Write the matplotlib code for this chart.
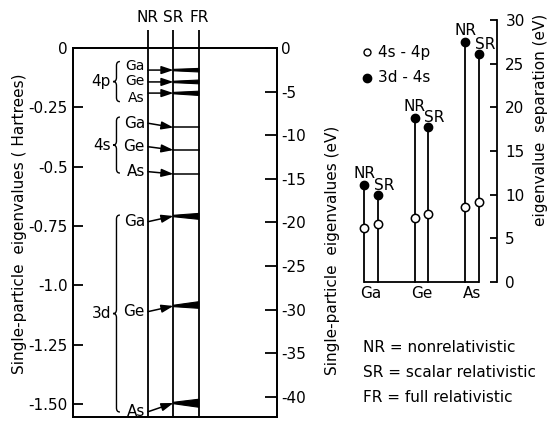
import numpy as np
import matplotlib
matplotlib.use("Agg")
import matplotlib.pyplot as plt
from matplotlib.path import Path
from matplotlib.patches import PathPatch, Polygon

plt.rcParams['font.family'] = ['DejaVu Sans']
FS = 11

# ---------------- data ----------------
methods = ["NR", "SR", "FR"]
elements = ["Ga", "Ge", "As"]
shells = ["4p", "4s", "3d"]
HARTREE_EV = 27.211

# single-particle eigenvalues (Hartree)
e4p_NR = [-0.093, -0.143, -0.190]
e4p_SR = [-0.093, -0.143, -0.190]
e4p_FR_hi = [-0.086, -0.135, -0.182]
e4p_FR_lo = [-0.101, -0.151, -0.200]

e4s_NR = [-0.317, -0.416, -0.521]
e4s_SR = [-0.335, -0.430, -0.531]
e4s_FR_hi = [-0.335, -0.430, -0.531]
e4s_FR_lo = [-0.335, -0.430, -0.531]

e3d_NR = [-0.732, -1.111, -1.533]
e3d_SR = [-0.708, -1.087, -1.496]
e3d_FR_hi = [-0.697, -1.069, -1.480]
e3d_FR_lo = [-0.722, -1.097, -1.514]

hartree_ticks = [0, -0.25, -0.5, -0.75, -1.0, -1.25, -1.5]
hartree_labels = ["0", "-0.25", "-0.5", "-0.75", "-1.0", "-1.25", "-1.50"]
ev_ticks = [0, -5, -10, -15, -20, -25, -30, -35, -40]
ev_labels = ["0", "-5", "-10", "-15", "-20", "-25", "-30", "-35", "-40"]

# eigenvalue separations (eV)
sep_4s4p_NR = [6.15, 7.37, 8.63]
sep_4s4p_SR = [6.6, 7.76, 9.13]
sep_3d4s_NR = [11.1, 18.8, 27.5]
sep_3d4s_SR = [9.97, 17.7, 26.1]
sep_ticks = [0, 5, 10, 15, 20, 25, 30]

legend_notes = ["NR = nonrelativistic", "SR = scalar relativistic", "FR = full relativistic"]

# ---------------- figure ----------------
W, H = 548, 429
fig = plt.figure(figsize=(W / 100, H / 100), dpi=100)
fig.patch.set_facecolor("white")

def fx(px):
    return px / W

def fy(py):
    return 1 - py / H

LW = 1.3

# ---------- left panel ----------
ax = fig.add_axes([fx(73), fy(417), (277 - 73) / W, (417 - 48) / H])
ymin = -1.555
ax.set_ylim(ymin, 0)
ax.set_xlim(-2.94, 5.06)
ax.set_xticks([])
ax.set_yticks(hartree_ticks)
ax.set_yticklabels(hartree_labels, fontsize=FS)
ax.tick_params(axis='y', direction='in', length=7, width=LW, pad=4)
for s in ax.spines.values():
    s.set_linewidth(LW)

axe = ax.twinx()
axe.set_ylim(ymin * HARTREE_EV, 0)
axe.set_yticks(ev_ticks)
axe.set_yticklabels(ev_labels, fontsize=FS)
axe.tick_params(axis='y', direction='in', length=8.5, width=LW, pad=3)
for s in axe.spines.values():
    s.set_linewidth(LW)

xpos = {m: i for i, m in enumerate(methods)}
top_line = 0.076
for m in methods:
    ax.plot([xpos[m], xpos[m]], [ymin, top_line], color='k', lw=LW,
            clip_on=False, solid_capstyle='butt')
    ax.text(xpos[m], 0.128, m, ha='center', va='center', fontsize=FS,
            clip_on=False)

def draw_level(nr, sr, fr_hi, fr_lo):
    ax.annotate('', xy=(xpos["SR"], sr), xytext=(xpos["NR"], nr),
                arrowprops=dict(arrowstyle='-|>,head_length=0.6,head_width=0.2',
                                color='k', lw=1.1, shrinkA=0, shrinkB=0,
                                mutation_scale=12))
    if abs(fr_hi - fr_lo) < 1e-6:
        ax.plot([xpos["SR"], xpos["FR"]], [sr, sr], color='k', lw=1.1)
    else:
        d = 0.003
        poly = Polygon([(xpos["SR"], sr + d), (xpos["FR"], fr_hi),
                        (xpos["FR"], fr_lo), (xpos["SR"], sr - d)],
                       closed=True, facecolor='k', edgecolor='k', lw=0.8)
        ax.add_patch(poly)

def brace(y_top, y_bot, r=0.017, x_end=-1.10, x_mid=-1.235, x_tip=-1.37):
    ym = (y_top + y_bot) / 2
    verts = [(x_end, y_top), (x_mid, y_top), (x_mid, y_top - r),
             (x_mid, ym + r),
             (x_mid, ym), (x_tip, ym),
             (x_mid, ym), (x_mid, ym - r),
             (x_mid, y_bot + r),
             (x_mid, y_bot), (x_end, y_bot)]
    codes = [Path.MOVETO, Path.CURVE3, Path.CURVE3, Path.LINETO,
             Path.CURVE3, Path.CURVE3, Path.CURVE3, Path.CURVE3,
             Path.LINETO, Path.CURVE3, Path.CURVE3]
    ax.add_patch(PathPatch(Path(verts, codes), facecolor='none',
                           edgecolor='k', lw=1.0, clip_on=False))
    return ym

groups = [
    ("4p", e4p_NR, e4p_SR, e4p_FR_hi, e4p_FR_lo, 0.036, 0.036, 10, [0.019, 0.003, -0.019]),
    ("4s", e4s_NR, e4s_SR, e4s_FR_hi, e4s_FR_lo, 0.026, 0.006, FS, [0, 0, 0]),
    ("3d", e3d_NR, e3d_SR, e3d_FR_hi, e3d_FR_lo, 0.028, 0.001, FS, [0, 0, 0]),
]
for shell, nr, sr, fh, fl, ptop, pbot, fs, shift in groups:
    for i, el in enumerate(elements):
        draw_level(nr[i], sr[i], fh[i], fl[i])
        ax.text(xpos["NR"] - 0.12, nr[i] + shift[i], el, ha='right', va='center',
                fontsize=fs)
    ym = brace(max(nr) + ptop, min(nr) - pbot)
    ax.text(-1.45, ym, shell, ha='right', va='center', fontsize=FS)

fig.text(fx(20), fy(224), "Single-particle  eigenvalues ( Hartrees)",
         rotation=90, ha='center', va='center', fontsize=FS)
fig.text(fx(332), fy(250), "Single-particle  eigenvalues (eV)",
         rotation=90, ha='center', va='center', fontsize=FS)

# ---------- right panel ----------
ax2 = fig.add_axes([fx(355), fy(282), (497 - 355) / W, (282 - 20) / H])
ax2.set_ylim(0, 30)
ax2.set_xlim(-0.317, 2.495)
for side in ["left", "top", "bottom"]:
    ax2.spines[side].set_visible(False)
ax2.spines["right"].set_linewidth(LW)
ax2.yaxis.tick_right()
ax2.set_yticks(sep_ticks)
ax2.set_yticklabels([str(t) for t in sep_ticks], fontsize=FS)
ax2.tick_params(axis='y', direction='in', length=5, width=LW, pad=6)
ax2.set_xticks([])
ax2.patch.set_alpha(0)

off = 0.13
xc = np.arange(len(elements))
x_nr = xc - off
x_sr = xc + off
for xs, top, low, lab, dx, dy in [
        (x_nr, sep_3d4s_NR, sep_4s4p_NR, "NR", 0, 8.5),
        (x_sr, sep_3d4s_SR, sep_4s4p_SR, "SR", 4.5, 7)]:
    for x, t, l in zip(xs, top, low):
        ax2.plot([x, x], [0, t], color='k', lw=LW, clip_on=False)
        ax2.plot(x, t, 'o', ms=6, mfc='k', mec='k', clip_on=False, zorder=3)
        ax2.plot(x, l, 'o', ms=6, mfc='white', mec='k', mew=1.1,
                 clip_on=False, zorder=3)
        ax2.annotate(lab, xy=(x, t), xytext=(dx, dy), textcoords='offset points',
                     ha='center', va='center', fontsize=FS)
ax2.plot([x_nr[0], x_sr[-1]], [0, 0], color='k', lw=LW, clip_on=False,
         solid_capstyle='butt')
for x, el in zip(xc, elements):
    ax2.text(x, -1.28, el, ha='center', va='center', fontsize=FS, clip_on=False)

# legend inside right panel
ax2.plot(-0.08, 26.3, 'o', ms=5.0, mfc='white', mec='k', mew=1.0, clip_on=False)
ax2.plot(-0.08, 23.4, 'o', ms=6, mfc='k', mec='k', clip_on=False)
ax2.text(0.14, 26.3, "4s - 4p", ha='left', va='center', fontsize=FS)
ax2.text(0.14, 23.4, "3d - 4s", ha='left', va='center', fontsize=FS)

fig.text(fx(540), fy(120), "eigenvalue  separation (eV)", rotation=90,
         ha='center', va='center', fontsize=FS)

for i, note in enumerate(legend_notes):
    fig.text(fx(363), fy(348 + 24.5 * i), note, ha='left', va='center',
             fontsize=FS)

fig.savefig("out.png", dpi=100)
